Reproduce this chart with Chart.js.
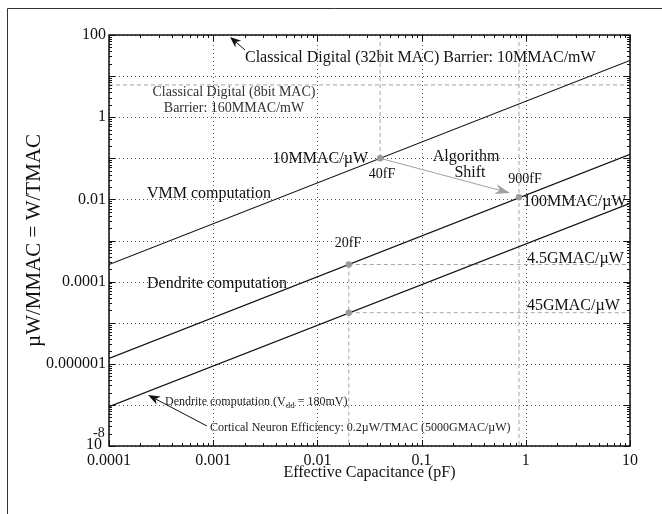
<!DOCTYPE html>
<html>
<head>
<meta charset="utf-8">
<script src="https://cdn.jsdelivr.net/npm/chart.js@4/dist/chart.umd.min.js"></script>
<style>
  body { margin: 0; background: #fff; }
  #wrap { width: 662px; height: 514px; }
</style>
</head>
<body>
<div id="wrap"><canvas id="chart" width="662" height="514"></canvas></div>
<script>
// axis ticks
const xTicks = [0.0001, 0.001, 0.01, 0.1, 1, 10];
const xTickLabels = ['0.0001', '0.001', '0.01', '0.1', '1', '10'];
const yTicks = [1e-8, 1e-7, 1e-6, 1e-5, 1e-4, 1e-3, 1e-2, 1e-1, 1, 10, 100];
const yTickLabels = ['', '', '0.000001', '', '0.0001', '', '0.01', '', '1', '', '100'];

// the three energy lines, value at each end of the capacitance range
const capRange = [0.0001, 10];
const vmmLine = [0.00026, 24];
const dendriteLine = [0.00000135, 0.125];
const dendrite180Line = [0.000000091, 0.008];

// horizontal barrier (8bit digital MAC)
const barrier8bit = 6.1;

// grey marker points
const markerCaps = [0.04, 0.86, 0.02, 0.02];
const markerValues = [0.1, 0.0113, 0.00026, 0.0000175];

// vertical dashed guides
const vGuideX = [0.04, 0.02, 0.86];
const vGuideTop = [100, 0.00026, 100];
const vGuideBottom = [0.1, 1e-8, 1e-8];

// horizontal dashed guides (from 20fF to the right edge)
const hGuideY = [0.00026, 0.0000175];
const hGuideFrom = 0.02;

// arrows: [x0, y0, x1, y1] tail -> tip
const shiftArrow = [0.04, 0.1, 0.705, 0.0143];
const digital32Arrow = [0.00202, 43.2, 0.00145, 89.4];
const corticalArrow = [0.00087, 3.07e-8, 0.000237, 1.74e-7];

const SERIF = '"Liberation Serif", "Times New Roman", serif';
const DASH_GREY = '#a6a6a6';

function seg(x0, y0, x1, y1) {
  return [{ x: x0, y: y0 }, { x: x1, y: y1 }];
}

const solid = (data) => ({
  data, showLine: true, borderColor: '#111', borderWidth: 1.2,
  pointRadius: 0, order: 2
});
const dashed = (data) => ({
  data, showLine: true, borderColor: DASH_GREY, borderWidth: 1,
  borderDash: [4, 3], pointRadius: 0, order: 3
});

const datasets = [
  solid(seg(capRange[0], vmmLine[0], capRange[1], vmmLine[1])),
  solid(seg(capRange[0], dendriteLine[0], capRange[1], dendriteLine[1])),
  solid(seg(capRange[0], dendrite180Line[0], capRange[1], dendrite180Line[1])),
  dashed(seg(capRange[0], barrier8bit, capRange[1], barrier8bit)),
];
vGuideX.forEach((x, i) => datasets.push(dashed(seg(x, vGuideTop[i], x, vGuideBottom[i]))));
hGuideY.forEach(y => datasets.push(dashed(seg(hGuideFrom, y, capRange[1], y))));
datasets.push({
  data: markerCaps.map((x, i) => ({ x, y: markerValues[i] })),
  showLine: false, pointRadius: 3.2, pointBackgroundColor: '#9a9a9a',
  pointBorderColor: '#9a9a9a', pointBorderWidth: 0, order: 1
});

function text(ctx, str, x, y, size, align) {
  ctx.font = size + 'px ' + SERIF;
  ctx.textAlign = align || 'left';
  ctx.textBaseline = 'alphabetic';
  ctx.fillText(str, x, y);
}

function arrow(ctx, chart, a, color, lw, len, half) {
  const xs = chart.scales.x, ys = chart.scales.y;
  const x0 = xs.getPixelForValue(a[0]), y0 = ys.getPixelForValue(a[1]);
  const x1 = xs.getPixelForValue(a[2]), y1 = ys.getPixelForValue(a[3]);
  const ang = Math.atan2(y1 - y0, x1 - x0);
  ctx.strokeStyle = color; ctx.fillStyle = color; ctx.lineWidth = lw;
  ctx.beginPath(); ctx.moveTo(x0, y0);
  ctx.lineTo(x1 - Math.cos(ang) * len * 0.7, y1 - Math.sin(ang) * len * 0.7);
  ctx.stroke();
  const bx = x1 - Math.cos(ang) * len, by = y1 - Math.sin(ang) * len;
  const nx = -Math.sin(ang) * half, ny = Math.cos(ang) * half;
  ctx.beginPath();
  ctx.moveTo(x1, y1);
  ctx.lineTo(bx + nx, by + ny);
  ctx.lineTo(x1 - Math.cos(ang) * len * 0.7, y1 - Math.sin(ang) * len * 0.7);
  ctx.lineTo(bx - nx, by - ny);
  ctx.closePath(); ctx.fill();
}

const decorations = {
  id: 'decorations',
  beforeDraw(chart) {
    const ctx = chart.ctx;
    ctx.save();
    ctx.fillStyle = '#fff';
    ctx.fillRect(0, 0, chart.width, chart.height);
    ctx.strokeStyle = '#333'; ctx.lineWidth = 1;
    ctx.beginPath();
    ctx.moveTo(7.5, chart.height); ctx.lineTo(7.5, 8.5); ctx.lineTo(chart.width, 8.5);
    ctx.stroke();
    ctx.restore();
  },
  beforeDatasetsDraw(chart) {
    // dotted decade grid
    const ctx = chart.ctx;
    const { left, right, top, bottom } = chart.chartArea;
    const xs = chart.scales.x, ys = chart.scales.y;
    ctx.save();
    ctx.fillStyle = '#555';
    xTicks.forEach(v => {
      const px = Math.round(xs.getPixelForValue(v));
      for (let y = Math.round(top) + 2; y < bottom; y += 4) ctx.fillRect(px, y, 1, 1);
    });
    yTicks.forEach(v => {
      const py = Math.round(ys.getPixelForValue(v));
      for (let x = Math.round(left) + 2; x < right; x += 4) ctx.fillRect(x, py, 1, 1);
    });
    ctx.restore();
  },
  afterDatasetsDraw(chart) {
    const ctx = chart.ctx;
    const { left, right, top, bottom } = chart.chartArea;
    const xs = chart.scales.x, ys = chart.scales.y;
    ctx.save();

    // inward major / minor ticks on all four sides
    ctx.strokeStyle = '#111'; ctx.lineWidth = 1;
    ctx.beginPath();
    for (let d = -4; d <= 1; d++) {
      for (let m = 1; m <= 9; m++) {
        const v = m * Math.pow(10, d);
        if (v > 10.0001) break;
        const px = Math.round(xs.getPixelForValue(v)) + 0.5;
        const len = m === 1 ? 6 : 3;
        ctx.moveTo(px, bottom); ctx.lineTo(px, bottom - len);
        ctx.moveTo(px, top); ctx.lineTo(px, top + len);
      }
    }
    for (let d = -8; d <= 2; d++) {
      for (let m = 1; m <= 9; m++) {
        const v = m * Math.pow(10, d);
        if (v > 100.0001) break;
        const py = Math.round(ys.getPixelForValue(v)) + 0.5;
        const len = m === 1 ? 6 : 3;
        ctx.moveTo(left, py); ctx.lineTo(left + len, py);
        ctx.moveTo(right, py); ctx.lineTo(right - len, py);
      }
    }
    ctx.stroke();

    // plot box
    ctx.lineWidth = 1.5; ctx.strokeStyle = '#111';
    ctx.strokeRect(left, top, right - left, bottom - top);

    // arrows
    arrow(ctx, chart, shiftArrow, '#a0a0a0', 1, 15, 5);
    arrow(ctx, chart, digital32Arrow, '#111', 1, 11, 4.5);
    arrow(ctx, chart, corticalArrow, '#111', 1, 12, 4.5);

    // annotations
    ctx.fillStyle = '#111';
    text(ctx, 'Classical Digital (32bit MAC) Barrier: 10MMAC/mW', 245, 62, 16);
    ctx.fillStyle = '#333';
    text(ctx, 'Classical Digital (8bit MAC)', 234, 96, 14, 'center');
    text(ctx, 'Barrier: 160MMAC/mW', 234, 112, 14, 'center');
    ctx.fillStyle = '#111';
    text(ctx, '10MMAC/\u00b5W', 368, 163, 16, 'right');
    text(ctx, '40fF', 382, 178, 14, 'center');
    text(ctx, 'Algorithm', 466, 161, 16, 'center');
    text(ctx, 'Shift', 470, 177, 16, 'center');
    text(ctx, '900fF', 525, 183, 14, 'center');
    text(ctx, '100MMAC/\u00b5W', 523, 206, 16);
    text(ctx, '20fF', 348, 247, 14, 'center');
    text(ctx, '4.5GMAC/\u00b5W', 527, 263, 16);
    text(ctx, '45GMAC/\u00b5W', 527, 310, 16);
    text(ctx, 'VMM computation', 147, 198, 16);
    text(ctx, 'Dendrite computation', 147, 288, 16);

    // Dendrite computation (Vdd = 180mV) with subscript
    ctx.fillStyle = '#222';
    let x = 165;
    const part1 = 'Dendrite computation (V';
    text(ctx, part1, x, 405, 12); x += ctx.measureText(part1).width;
    text(ctx, 'dd', x, 408, 9); x += ctx.measureText('dd').width;
    text(ctx, ' = 180mV)', x, 405, 12);
    text(ctx, 'Cortical Neuron Efficiency: 0.2\u00b5W/TMAC (5000GMAC/\u00b5W)', 210, 431, 12);

    // 10^-8 tick label
    ctx.fillStyle = '#111';
    text(ctx, '10', 102, 449, 16, 'right');
    text(ctx, '-8', 93, 437, 14);

    ctx.restore();
  }
};

new Chart(document.getElementById('chart'), {
  type: 'scatter',
  data: { datasets },
  options: {
    responsive: false,
    animation: false,
    layout: { padding: { left: 0, top: 35, right: 32, bottom: 0 } },
    plugins: { legend: { display: false }, tooltip: { enabled: false } },
    scales: {
      x: {
        type: 'logarithmic', min: 0.0001, max: 10,
        afterBuildTicks: (s) => { s.ticks = xTicks.map(v => ({ value: v })); },
        afterFit: (s) => { s.height = 68; },
        grid: { display: false, drawTicks: false },
        border: { display: false },
        ticks: {
          autoSkip: false, maxRotation: 0, padding: 5, color: '#111',
          font: { family: SERIF, size: 16 },
          callback: (v, i) => xTickLabels[i]
        },
        title: {
          display: true, text: 'Effective Capacitance (pF)', color: '#111',
          font: { family: SERIF, size: 16 }, padding: { top: 0, bottom: 32 }
        }
      },
      y: {
        type: 'logarithmic', min: 1e-8, max: 100,
        afterBuildTicks: (s) => { s.ticks = yTicks.map(v => ({ value: v })); },
        afterFit: (s) => { s.width = 109; },
        grid: { display: false, drawTicks: false },
        border: { display: false },
        ticks: {
          autoSkip: false, padding: 3, color: '#111',
          font: { family: SERIF, size: 16 },
          callback: (v, i) => yTickLabels[i]
        },
        title: {
          display: true, text: '\u00b5W/MMAC = W/TMAC', color: '#111',
          font: { family: SERIF, size: 21 }, padding: { top: 22, bottom: 0 }
        }
      }
    }
  },
  plugins: [decorations]
});
</script>
</body>
</html>
